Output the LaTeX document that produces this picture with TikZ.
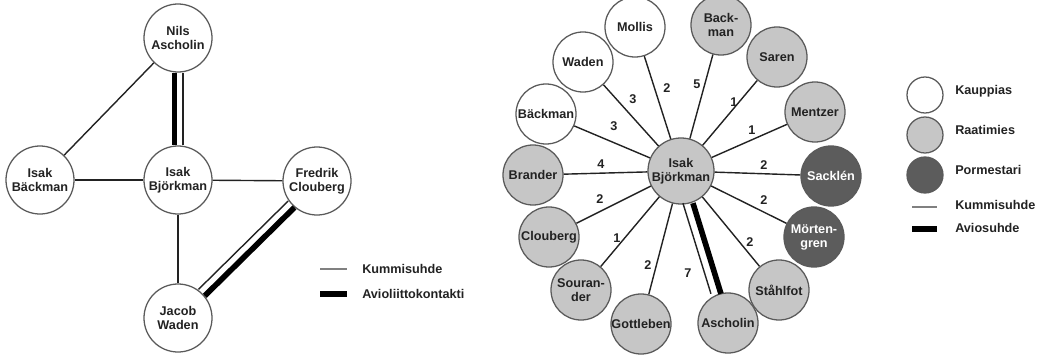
\documentclass[tikz,border=0pt]{standalone}
\usepackage{fontspec}
\setmainfont{Liberation Sans}
\usetikzlibrary{calc}
\definecolor{raatimies}{HTML}{C6C6C6}
\definecolor{pormestari}{HTML}{5C5C5C}
\definecolor{rim}{HTML}{5A5A5A}
\definecolor{inkgray}{HTML}{222222}
\tikzset{
  person/.style={circle, draw=rim, line width=0.9pt, fill=white, minimum size=1.7cm,
                 inner sep=0pt, align=center, text=inkgray,
                 font=\fontsize{9}{10}\selectfont\bfseries},
  smallperson/.style={person, minimum size=1.5cm},
  raati/.style={fill=raatimies},
  porm/.style={fill=pormestari, text=white},
  legdot/.style={circle, draw=rim, line width=0.9pt, minimum size=0.9cm, inner sep=0pt},
  kummi/.style={line width=1pt, draw=inkgray},
  avio/.style={line width=4pt, draw=black},
  count/.style={inner sep=1pt, text=inkgray, font=\fontsize{9}{10}\selectfont\bfseries},
  legtext/.style={anchor=west, inner sep=0pt, text=inkgray,
                  font=\fontsize{9}{10}\selectfont\bfseries}}

\begin{document}
\begin{tikzpicture}[x=0.025cm, y=-0.025cm]
  \useasboundingbox (0,0) rectangle (1042,355);

  % left: kummi and marriage ties
  \node[person] (nils)  at (178,38)  {Nils\\Ascholin};
  \node[person] (isakb) at (40,180)  {Isak\\Bäckman};
  \node[person] (isak)  at (178,180) {Isak\\Björkman};
  \node[person] (fred)  at (317,181) {Fredrik\\Clouberg};
  \node[person] (jacob) at (178,318) {Jacob\\Waden};

  \draw[kummi] (nils) -- (isakb);
  \draw[kummi] (isakb) -- (isak);
  \draw[kummi] (isak) -- (fred);
  \draw[kummi] (isak) -- (jacob);
  \draw[avio, transform canvas={xshift=-0.09cm}] (nils) -- (isak);
  \draw[kummi, transform canvas={xshift=0.125cm}] (nils) -- (isak);
  \draw[avio, transform canvas={xshift=0.053cm, yshift=-0.053cm}] (fred) -- (jacob);
  \draw[kummi, transform canvas={xshift=-0.105cm, yshift=0.107cm}] (fred) -- (jacob);

  \coordinate (lk1) at (320,269); \coordinate (lk2) at (347,269);
  \coordinate (la1) at (320,294); \coordinate (la2) at (347,294);
  \draw[kummi, draw=gray, line width=1.4pt] (lk1) -- (lk2);
  \draw[avio] (la1) -- (la2);
  \node[legtext] (lkt) at (362,269) {Kummisuhde};
  \node[legtext] (lat) at (362,294) {Avioliittokontakti};

  % right: the star around Björkman
  \node[person, raati, minimum size=1.65cm] (hub) at (681,171) {Isak\\Björkman};
  \node[smallperson] (mollis) at (635,27) {Mollis};
  \node[smallperson] (waden) at (583,62) {Waden};
  \node[smallperson] (backm) at (546,114) {Bäckman};
  \node[smallperson, raati] (brander) at (533,175) {Brander};
  \node[smallperson, raati] (cloub) at (549,237) {Clouberg};
  \node[smallperson, raati] (sour) at (581,290) {Souran-\\der};
  \node[smallperson, raati] (gott) at (641,324) {Gottleben};
  \node[smallperson, raati] (asch) at (728,323) {Ascholin};
  \node[smallperson, raati] (stahl) at (779,290) {Ståhlfot};
  \node[smallperson, porm] (mort) at (814,237) {Mörten-\\gren};
  \node[smallperson, porm] (sack) at (831,176) {Sacklén};
  \node[smallperson, raati] (mentz) at (815,112) {Mentzer};
  \node[smallperson, raati] (saren) at (777,57) {Saren};
  \node[smallperson, raati] (back) at (721,25) {Back-\\man};

  \draw[kummi] (hub) -- (mollis);
  \draw[kummi] (hub) -- (waden);
  \draw[kummi] (hub) -- (backm);
  \draw[kummi] (hub) -- (brander);
  \draw[kummi] (hub) -- (cloub);
  \draw[kummi] (hub) -- (sour);
  \draw[kummi] (hub) -- (gott);
  \draw[kummi] (hub) -- (stahl);
  \draw[kummi] (hub) -- (mort);
  \draw[kummi] (hub) -- (sack);
  \draw[kummi] (hub) -- (mentz);
  \draw[kummi] (hub) -- (saren);
  \draw[kummi] (hub) -- (back);
  \draw[avio, transform canvas={xshift=0.05cm}] (hub) -- (asch);
  \draw[kummi, transform canvas={xshift=-0.2cm}] (hub) -- (asch);

  \node[count] (cmollis) at (667,88) {2};
  \node[count] (cwaden) at (633,99) {3};
  \node[count] (cbackm) at (614,126) {3};
  \node[count] (cbrander) at (601,164) {4};
  \node[count] (ccloub) at (600,199) {2};
  \node[count] (csour) at (617,238) {1};
  \node[count] (cgott) at (648,265) {2};
  \node[count] (casch) at (688,273) {7};
  \node[count] (cstahl) at (750,242) {2};
  \node[count] (cmort) at (764,200) {2};
  \node[count] (csack) at (764,165) {2};
  \node[count] (cmentz) at (752,130) {1};
  \node[count] (csaren) at (734,102) {1};
  \node[count] (cback) at (697,84) {5};

  \node[legdot, fill=white] (dk) at (925,95) {};
  \node[legdot, fill=raatimies] (dr) at (925,135) {};
  \node[legdot, fill=pormestari] (dp) at (925,175) {};
  \node[legtext] (tk) at (955,91) {Kauppias};
  \node[legtext] (tr) at (955,130) {Raatimies};
  \node[legtext] (tp) at (955,170) {Pormestari};
  \coordinate (rk1) at (912,207); \coordinate (rk2) at (937,207);
  \coordinate (ra1) at (912,229); \coordinate (ra2) at (937,229);
  \draw[kummi, draw=gray, line width=1.4pt] (rk1) -- (rk2);
  \draw[avio] (ra1) -- (ra2);
  \node[legtext] (tkm) at (955,205) {Kummisuhde};
  \node[legtext] (tav) at (955,228) {Aviosuhde};
\end{tikzpicture}
\end{document}
